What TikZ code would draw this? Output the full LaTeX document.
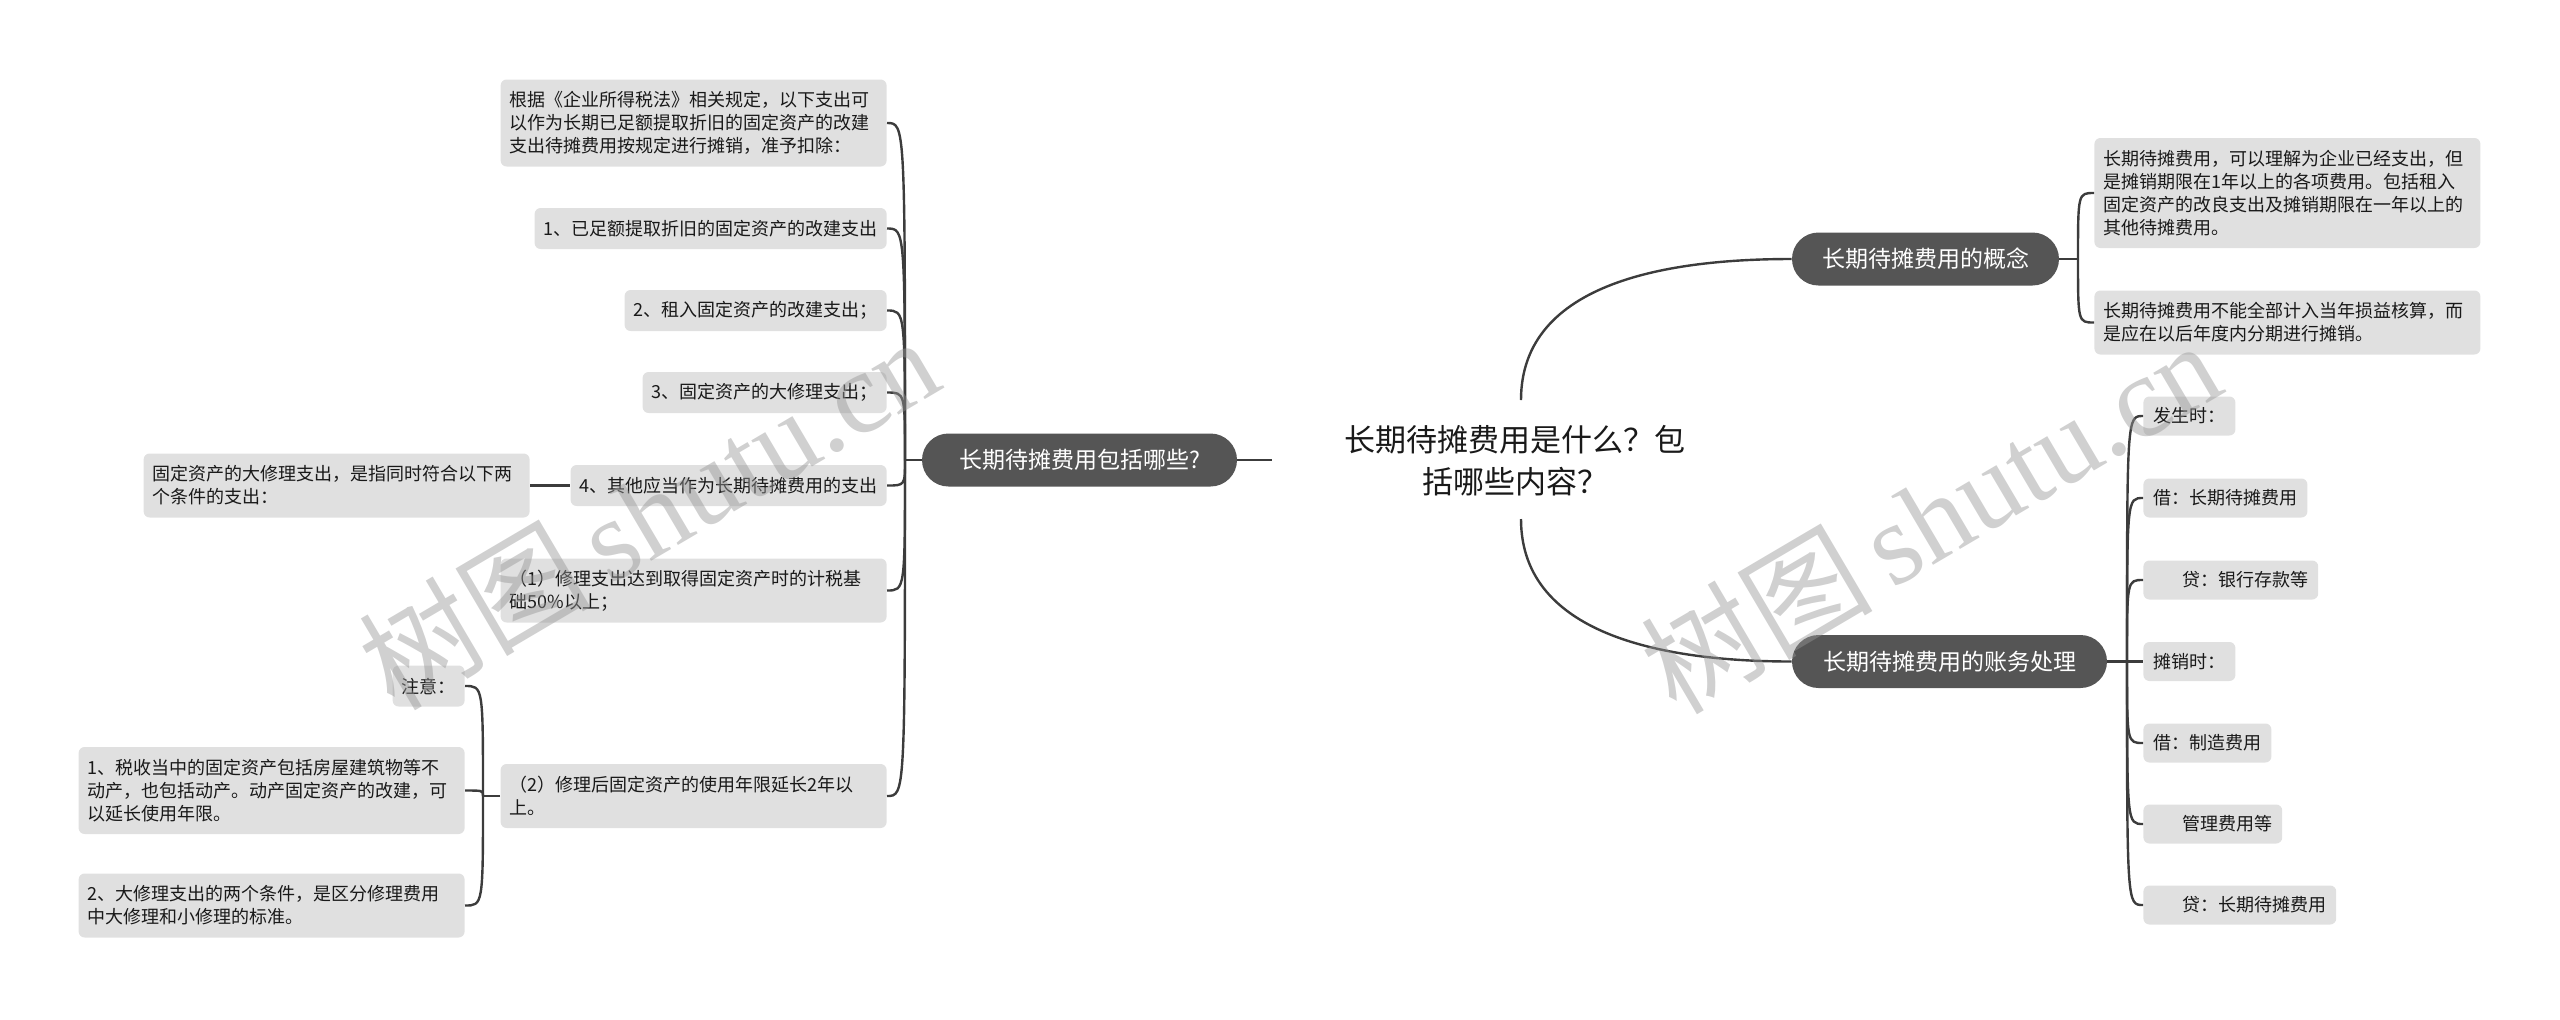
\documentclass[tikz,border=0pt]{standalone}
\usepackage{fontspec}
\setmainfont{Noto Sans CJK SC}
\newfontfamily\wmserif{Liberation Serif}
\usetikzlibrary{shapes.misc}
\definecolor{leafgray}{RGB}{224,224,224}
\definecolor{branchgray}{RGB}{85,85,85}
\definecolor{linegray}{RGB}{60,60,60}
\definecolor{txt}{RGB}{25,25,25}
\definecolor{wm}{RGB}{150,150,150}
\begin{document}
\begin{tikzpicture}[x=0.5pt,y=-0.5pt,
  leaf/.style={fill=leafgray, rounded corners=3pt, inner xsep=4.5pt, inner ysep=0pt,
    font=\fontsize{9pt}{11.5pt}\selectfont, align=left, text=txt},
  l1/.style={leaf, minimum height=20.5pt},
  l2/.style={leaf, minimum height=32pt, text width=184pt},
  l3/.style={leaf, minimum height=43.5pt, text width=184pt},
  l4/.style={leaf, minimum height=55pt, text width=184pt},
  acc/.style={leaf, inner xsep=5pt, minimum height=19.5pt, anchor=west},
  branch/.style={rounded rectangle, fill=branchgray, minimum height=26.5pt, text=white,
    font=\fontsize{11.5pt}{14pt}\selectfont, inner xsep=0pt},
  link/.style={draw=linegray, line width=1.2pt},
  wmark/.style={text=wm, opacity=0.45, rotate=30.5}
]
\useasboundingbox (0,0) rectangle (2560,1019);

% central topic
\node[font=\fontsize{15.5pt}{21pt}\selectfont, align=center, text=txt] (ctr) at (1515,461)
  {长期待摊费用是什么？包\\括哪些内容？};
\coordinate (ctop) at (1521,400);
\coordinate (cbot) at (1521,519);
\coordinate (cleft) at (1272,460);

% main branches
\node[branch, minimum width=157.5pt] (lb) at (1079.5,460) {长期待摊费用包括哪些?};
\node[branch, minimum width=133.5pt] (concept) at (1925.5,259) {长期待摊费用的概念};
\node[branch, minimum width=157.5pt] (acct) at (1949.5,661.5) {长期待摊费用的账务处理};

\draw[link] (lb.east) -- (cleft);
\draw[link] (ctop) to[out=90,in=180] (concept.west);
\draw[link] (cbot) to[out=-90,in=180] (acct.west);

% left children
\node[l3, anchor=east] (a) at (887,123) {根据《企业所得税法》相关规定，以下支出可\\以作为长期已足额提取折旧的固定资产的改建\\支出待摊费用按规定进行摊销，准予扣除：};
\node[l1, anchor=east] (b) at (887,228.5) {1、已足额提取折旧的固定资产的改建支出};
\node[l1, anchor=east] (c) at (887,310.5) {2、租入固定资产的改建支出；};
\node[l1, anchor=east] (d) at (887,392.5) {3、固定资产的大修理支出；};
\node[l1, anchor=east] (e) at (887,485.5) {4、其他应当作为长期待摊费用的支出};
\node[l2, anchor=east] (f) at (887,590.5) {（1）修理支出达到取得固定资产时的计税基\\础50\%以上；};
\node[l2, anchor=east] (g) at (887,796) {（2）修理后固定资产的使用年限延长2年以\\上。};

\coordinate (jl) at (905,460);
\draw[link] (lb.west) -- (jl);
\foreach \n in {a,b,c,d,e,f,g}
  \draw[link] (jl) .. controls (jl |- \n.east) .. (\n.east);

% sub of e
\node[l2, anchor=east] (esub) at (530,485.5) {固定资产的大修理支出，是指同时符合以下两\\个条件的支出：};
\draw[link] (esub.east) -- (e.west);

% subs of g
\node[l1, anchor=east] (g1) at (465,686) {注意：};
\node[l3, anchor=east] (g2) at (465,790.5) {1、税收当中的固定资产包括房屋建筑物等不\\动产，也包括动产。动产固定资产的改建，可\\以延长使用年限。};
\node[l2, anchor=east] (g3) at (465,905.5) {2、大修理支出的两个条件，是区分修理费用\\中大修理和小修理的标准。};
\coordinate (jg) at (483,796);
\draw[link] (g.west) -- (jg);
\foreach \n in {g1,g2,g3}
  \draw[link] (jg) .. controls (jg |- \n.east) .. (\n.east);

% concept children
\node[l4, anchor=west] (r1) at (2094,193) {长期待摊费用，可以理解为企业已经支出，但\\是摊销期限在1年以上的各项费用。包括租入\\固定资产的改良支出及摊销期限在一年以上的\\其他待摊费用。};
\node[l2, anchor=west] (r2) at (2094,322.5) {长期待摊费用不能全部计入当年损益核算，而\\是应在以后年度内分期进行摊销。};
\coordinate (jc) at (2078,259);
\draw[link] (concept.east) -- (jc);
\foreach \n in {r1,r2}
  \draw[link] (jc) .. controls (jc |- \n.west) .. (\n.west);

% accounting children
\node[acc] (k1) at (2143,416) {发生时：};
\node[acc] (k2) at (2143,498) {借：长期待摊费用};
\node[acc] (k3) at (2143,580) {\hspace{1.6em}贷：银行存款等};
\node[acc] (k4) at (2143,661.5) {摊销时：};
\node[acc] (k5) at (2143,743) {借：制造费用};
\node[acc] (k6) at (2143,824) {\hspace{1.6em}管理费用等};
\node[acc] (k7) at (2143,905) {\hspace{1.6em}贷：长期待摊费用};
\coordinate (ja) at (2127,661.5);
\draw[link] (acct.east) -- (ja);
\foreach \n in {k1,k2,k3,k4,k5,k6,k7}
  \draw[link] (ja) .. controls (ja |- \n.west) .. (\n.west);

% watermarks
\node[wmark, font=\fontsize{58pt}{60pt}\selectfont] (wm1) at (648,512) {树图\,{\wmserif shutu.cn}};
\node[wmark, font=\fontsize{58pt}{60pt}\selectfont] (wm2) at (1930,516) {树图\,{\wmserif shutu.cn}};
\end{tikzpicture}
\end{document}
